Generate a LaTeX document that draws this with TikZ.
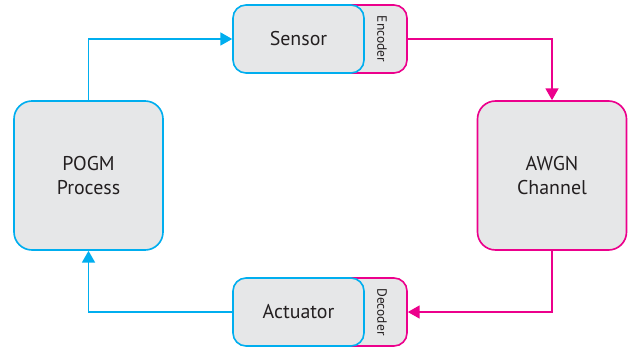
\documentclass[tikz,border=0pt]{standalone}
\usepackage{fontspec}
\setmainfont{PT Sans}
\usepackage{tikz}
\usetikzlibrary{arrows.meta, positioning}

\definecolor{loopblue}{RGB}{0,174,239}
\definecolor{looppink}{RGB}{236,0,140}
\definecolor{boxgray}{RGB}{230,231,232}
\definecolor{textgray}{RGB}{35,31,32}

\begin{document}
\begin{tikzpicture}[
            bigbox/.style={rectangle, rounded corners=0.54cm, fill=boxgray, line width=1.4pt, minimum width=4.47cm, minimum height=4.47cm, align=center, text=textgray, font=\fontsize{17}{21}\selectfont},
            smallbox/.style={rectangle, rounded corners=0.39cm, fill=boxgray, draw=loopblue, line width=1.4pt, minimum width=3.93cm, minimum height=2.04cm, text=textgray, font=\fontsize{17}{21}\selectfont},
            codebox/.style={rectangle, rounded corners=0.39cm, fill=boxgray, draw=looppink, line width=1.4pt, minimum width=2.31cm, minimum height=2.04cm},
            codetext/.style={rotate=-90, text=textgray, font=\fontsize{11.5}{13}\selectfont},
            bluearrow/.style={-{Triangle[width=11pt,length=10pt]}, draw=loopblue, line width=1.4pt},
            pinkarrow/.style={-{Triangle[width=11pt,length=10pt]}, draw=looppink, line width=1.4pt}
        ]
            \useasboundingbox (0,0) rectangle (19.32,10.62);

% encoder / decoder behind
            \node[codebox] (encoder) at (11.055,9.45) {};
            \node[codebox] (decoder) at (11.055,1.26) {};

% boxes
            \node[smallbox] (sensor) at (8.955,9.45) {Sensor};
            \node[smallbox] (actuator) at (8.955,1.26) {Actuator};
            \node[codetext] (enctext) at (11.46,9.45) {Encoder};
            \node[codetext] (dectext) at (11.46,1.26) {Decoder};

            \node[bigbox, draw=loopblue] (pogm) at (2.655,5.355) {POGM\\Process};
            \node[bigbox, draw=looppink] (awgn) at (16.56,5.355) {AWGN\\Channel};

% loop
            \draw[bluearrow] (pogm.north) |- (sensor.west);
            \draw[pinkarrow] (encoder.east) -| (awgn.north);
            \draw[pinkarrow] (awgn.south) |- (decoder.east);
            \draw[bluearrow] (actuator.west) -| (pogm.south);

        \end{tikzpicture}
\end{document}
